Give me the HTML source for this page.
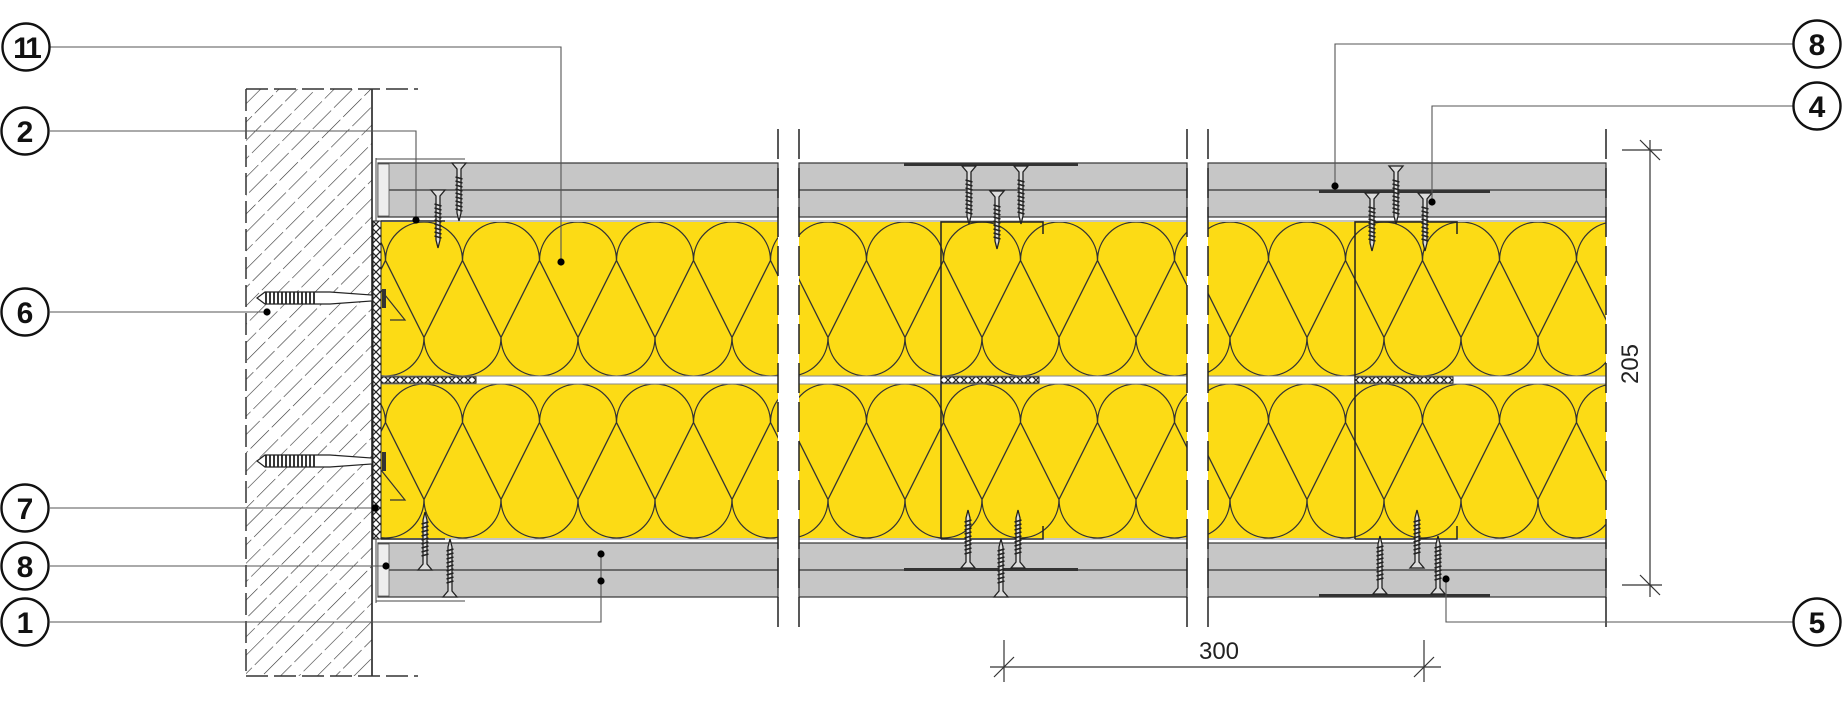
<!DOCTYPE html>
<html><head><meta charset="utf-8"><style>
html,body{margin:0;padding:0;background:#fff;}
svg{display:block;}
text{font-family:"Liberation Sans",sans-serif;}
</style></head><body>
<svg width="1843" height="709" viewBox="0 0 1843 709" xmlns="http://www.w3.org/2000/svg">
<defs>
<pattern id="hatch" patternUnits="userSpaceOnUse" width="13" height="30" patternTransform="rotate(45)">
<line x1="0" y1="0" x2="0" y2="30" stroke="#333" stroke-width="1.2" stroke-dasharray="20 4"/>
</pattern>
<g id="tile">
<rect x="0" y="0" width="77" height="154" fill="#fcdb15"/>
<path d="M-38.5,38.5 A38.5,38.5 0 0 1 38.5,38.5 A38.5,38.5 0 0 1 115.5,38.5 M0,115.5 A38.5,38.5 0 0 0 77,115.5 M0,115.5 L38.5,38.5 L77,115.5" fill="none" stroke="#333" stroke-width="1.3"/>
</g>
<pattern id="ins1" patternUnits="userSpaceOnUse" x="424" y="222" width="77" height="162"><use href="#tile"/></pattern>
<pattern id="ins2" patternUnits="userSpaceOnUse" x="905" y="222" width="77" height="162"><use href="#tile"/></pattern>
<pattern id="ins3" patternUnits="userSpaceOnUse" x="1230" y="222" width="77" height="162"><use href="#tile"/></pattern>
<pattern id="xh" patternUnits="userSpaceOnUse" width="8" height="8">
<rect width="8" height="8" fill="#fff"/><path d="M0,0 L8,8 M8,0 L0,8" stroke="#222" stroke-width="1.2"/>
</pattern>
<g id="screwDown">
<path d="M-7,0 L7,0 L2,6 L2,50 L0,58 L-2,50 L-2,6 Z" fill="#ddd" stroke="#222" stroke-width="1.3"/>
<path d="M-3.5,14 L3.5,16 M-3.5,18 L3.5,20 M-3.5,22 L3.5,24 M-3.5,26 L3.5,28 M-3.5,30 L3.5,32 M-3.5,34 L3.5,36 M-3.5,38 L3.5,40 M-3.5,42 L3.5,44 M-3.5,46 L3.5,48" stroke="#222" stroke-width="1.6"/>
</g>
<g id="dot"><circle r="3.6" fill="#000"/></g>
</defs>

<!-- wall -->
<rect x="246" y="89" width="126" height="587" fill="url(#hatch)"/>
<line x1="246" y1="89" x2="246" y2="676" stroke="#333" stroke-width="1.5" stroke-dasharray="22 6"/>
<line x1="372" y1="89" x2="372" y2="676" stroke="#222" stroke-width="1.6"/>
<line x1="246" y1="89" x2="418" y2="89" stroke="#333" stroke-width="1.5" stroke-dasharray="22 6"/>
<line x1="246" y1="676" x2="418" y2="676" stroke="#333" stroke-width="1.5" stroke-dasharray="22 6"/>
<line x1="376" y1="158" x2="376" y2="603" stroke="#444" stroke-width="1"/>
<line x1="376" y1="159" x2="465" y2="159" stroke="#444" stroke-width="1"/>
<line x1="376" y1="601" x2="465" y2="601" stroke="#444" stroke-width="1"/>

<!-- boards -->
<g fill="#c6c6c6" stroke="#333" stroke-width="1.2">
<rect x="378" y="163" width="400" height="54"/>
<rect x="378" y="543" width="400" height="54"/>
<rect x="799" y="163" width="388" height="54"/>
<rect x="799" y="543" width="388" height="54"/>
<rect x="1208" y="163" width="398" height="54"/>
<rect x="1208" y="543" width="398" height="54"/>
</g>
<g stroke="#333" stroke-width="1.2">
<line x1="378" y1="190" x2="778" y2="190"/><line x1="378" y1="570" x2="778" y2="570"/>
<line x1="799" y1="190" x2="1187" y2="190"/><line x1="799" y1="570" x2="1187" y2="570"/>
<line x1="1208" y1="190" x2="1606" y2="190"/><line x1="1208" y1="570" x2="1606" y2="570"/>
</g>
<rect x="378" y="164" width="11" height="52" fill="#eee" stroke="#555" stroke-width="0.8"/>
<rect x="378" y="544" width="11" height="52" fill="#eee" stroke="#555" stroke-width="0.8"/>

<!-- insulation -->
<rect x="381" y="222" width="397" height="154" fill="url(#ins1)"/>
<rect x="381" y="384" width="397" height="155" fill="url(#ins1)"/>
<rect x="799" y="222" width="388" height="154" fill="url(#ins2)"/>
<rect x="799" y="384" width="388" height="155" fill="url(#ins2)"/>
<rect x="1208" y="222" width="398" height="154" fill="url(#ins3)"/>
<rect x="1208" y="384" width="398" height="155" fill="url(#ins3)"/>
<g stroke="#888" stroke-width="1">
<line x1="381" y1="221" x2="778" y2="221"/><line x1="381" y1="539" x2="778" y2="539"/>
<line x1="799" y1="221" x2="1187" y2="221"/><line x1="799" y1="539" x2="1187" y2="539"/>
<line x1="1208" y1="221" x2="1606" y2="221"/><line x1="1208" y1="539" x2="1606" y2="539"/>
<line x1="381" y1="376" x2="1606" y2="376"/><line x1="381" y1="384" x2="1606" y2="384"/>
</g>
<rect x="778" y="370" width="21" height="20" fill="#fff"/>
<rect x="1187" y="370" width="21" height="20" fill="#fff"/>

<!-- left profile strip -->
<rect x="373" y="221" width="8" height="318" fill="url(#xh)" stroke="#222" stroke-width="1"/>
<rect x="381" y="377" width="95" height="6" fill="url(#xh)" stroke="#222" stroke-width="1"/>
<path d="M381,221 L445,221 M381,539 L445,539" stroke="#222" stroke-width="1.5"/>
<path d="M381,290 L405,320 L390,320 M381,470 L405,500 L390,500" fill="none" stroke="#333" stroke-width="1.2"/>

<!-- studs section 2 and 3 -->
<g fill="none" stroke="#222" stroke-width="1.5">
<path d="M941,539 L941,222 L1043,222 L1043,234"/>
<path d="M941,539 L1043,539 L1043,526"/>
<path d="M1355,539 L1355,222 L1457,222 L1457,234"/>
<path d="M1355,539 L1457,539 L1457,526"/>
</g>
<rect x="941" y="377" width="98" height="6" fill="url(#xh)" stroke="#222" stroke-width="1"/>
<rect x="1355" y="377" width="98" height="6" fill="url(#xh)" stroke="#222" stroke-width="1"/>

<!-- plates -->
<g fill="#333">
<rect x="904" y="163" width="174" height="3"/>
<rect x="904" y="568" width="174" height="3"/>
<rect x="1319" y="190" width="171" height="3"/>
<rect x="1319" y="594" width="171" height="3"/>
</g>

<!-- screws top -->
<use href="#screwDown" x="438" y="190"/>
<use href="#screwDown" x="459" y="163"/>
<use href="#screwDown" x="969" y="166"/>
<use href="#screwDown" x="997" y="191"/>
<use href="#screwDown" x="1021" y="166"/>
<use href="#screwDown" x="1372" y="193"/>
<use href="#screwDown" x="1396" y="166"/>
<use href="#screwDown" x="1425" y="193"/>
<!-- screws bottom (flipped) -->
<g transform="translate(0,1110) scale(1,-1)">
<use href="#screwDown" x="425" y="540"/>
<use href="#screwDown" x="450" y="513"/>
<use href="#screwDown" x="968" y="542"/>
<use href="#screwDown" x="1001" y="513"/>
<use href="#screwDown" x="1018" y="542"/>
<use href="#screwDown" x="1380" y="516"/>
<use href="#screwDown" x="1417" y="542"/>
<use href="#screwDown" x="1438" y="516"/>
</g>

<!-- anchors -->
<g stroke="#222" stroke-width="1.2" fill="#fff">
<path d="M257,298 L265,292 L330,292 L372,295 L372,301 L330,304 L265,304 Z"/>
<path d="M257,461 L265,455 L330,455 L372,458 L372,464 L330,467 L265,467 Z"/>
</g>
<g stroke="#222" stroke-width="1.8">
<path d="M266,292 l0,12 M270,292 l0,12 M274,292 l0,12 M278,292 l0,12 M282,292 l0,12 M286,292 l0,12 M290,292 l0,12 M294,292 l0,12 M298,292 l0,12 M302,292 l0,12 M306,292 l0,12 M310,292 l0,12 M314,292 l0,12"/>
<path d="M266,455 l0,12 M270,455 l0,12 M274,455 l0,12 M278,455 l0,12 M282,455 l0,12 M286,455 l0,12 M290,455 l0,12 M294,455 l0,12 M298,455 l0,12 M302,455 l0,12 M306,455 l0,12 M310,455 l0,12 M314,455 l0,12"/>
</g>
<rect x="382" y="289" width="4" height="19" fill="#333"/>
<rect x="382" y="452" width="4" height="19" fill="#333"/>

<!-- break lines -->
<g stroke="#222" stroke-width="1.5" stroke-dasharray="30 9">
<line x1="778" y1="129" x2="778" y2="629"/>
<line x1="799" y1="129" x2="799" y2="629"/>
<line x1="1187" y1="129" x2="1187" y2="629"/>
<line x1="1208" y1="129" x2="1208" y2="629"/>
<line x1="1606" y1="129" x2="1606" y2="629"/>
</g>

<!-- dimensions -->
<g stroke="#333" stroke-width="1.2">
<line x1="1650" y1="140" x2="1650" y2="597"/>
<line x1="1622" y1="150" x2="1662" y2="150"/>
<line x1="1622" y1="585" x2="1662" y2="585"/>
<line x1="1640" y1="140" x2="1660" y2="160"/>
<line x1="1640" y1="575" x2="1660" y2="595"/>
<line x1="990" y1="667" x2="1441" y2="667"/>
<line x1="1004" y1="640" x2="1004" y2="682"/>
<line x1="1424" y1="640" x2="1424" y2="682"/>
<line x1="994" y1="677" x2="1014" y2="657"/>
<line x1="1414" y1="677" x2="1434" y2="657"/>
</g>
<text x="1219" y="659" font-size="24" text-anchor="middle" fill="#222">300</text>
<text transform="translate(1638,364) rotate(-90)" font-size="24" text-anchor="middle" fill="#222">205</text>

<!-- leaders -->
<g stroke="#555" stroke-width="1.1" fill="none">
<path d="M50,47 H561 V262"/>
<path d="M50,131 H416 V220"/>
<path d="M50,312 H267"/>
<path d="M50,508 H375"/>
<path d="M50,566 H386"/>
<path d="M50,622 H601 V554"/>
<path d="M1793,44 H1335 V186"/>
<path d="M1793,106 H1432 V202"/>
<path d="M1793,622 H1446 V579"/>
</g>
<use href="#dot" x="561" y="262"/><use href="#dot" x="416" y="220"/><use href="#dot" x="267" y="312"/>
<use href="#dot" x="375" y="508"/><use href="#dot" x="386" y="566"/><use href="#dot" x="601" y="554"/>
<use href="#dot" x="601" y="581"/><use href="#dot" x="1335" y="186"/><use href="#dot" x="1432" y="202"/>
<use href="#dot" x="1446" y="579"/>

<!-- callout circles -->
<g fill="#fff" stroke="#111" stroke-width="2.4">
<circle cx="26" cy="47" r="23.5"/><circle cx="25" cy="131" r="23.5"/><circle cx="25" cy="312" r="23.5"/>
<circle cx="25" cy="508" r="23.5"/><circle cx="25" cy="566" r="23.5"/><circle cx="25" cy="622" r="23.5"/>
<circle cx="1817" cy="44" r="23.5"/><circle cx="1817" cy="106" r="23.5"/><circle cx="1817" cy="622" r="23.5"/>
</g>
<g font-size="30" font-weight="bold" text-anchor="middle" fill="#111">
<text x="26" y="58" letter-spacing="-3">11</text><text x="25" y="142">2</text><text x="25" y="323">6</text>
<text x="25" y="519">7</text><text x="25" y="577">8</text><text x="25" y="633">1</text>
<text x="1817" y="55">8</text><text x="1817" y="117">4</text><text x="1817" y="633">5</text>
</g>
</svg>
</body></html>
